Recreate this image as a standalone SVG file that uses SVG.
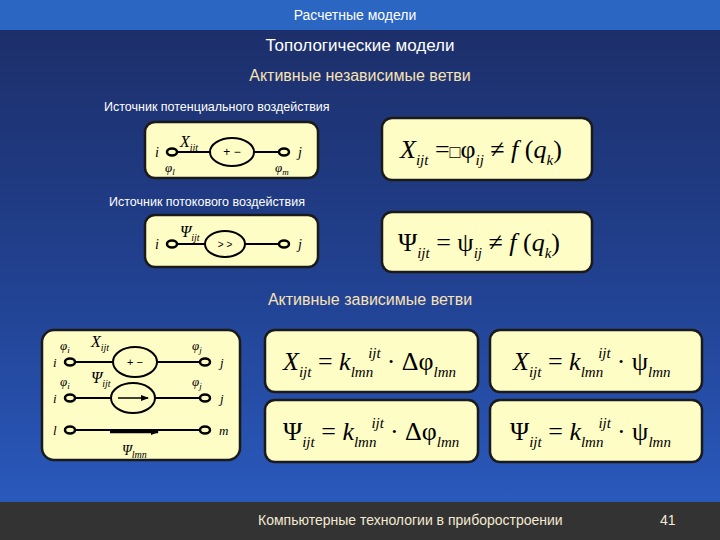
<svg xmlns="http://www.w3.org/2000/svg" width="720" height="540" viewBox="0 0 720 540">
<defs>
<linearGradient id="bg" x1="0" y1="0" x2="0" y2="1">
<stop offset="0" stop-color="#1c2d66"/><stop offset="0.5" stop-color="#21408e"/><stop offset="1" stop-color="#2b5dc4"/>
</linearGradient>
<marker id="ar" markerWidth="8" markerHeight="6" refX="7" refY="3" orient="auto" markerUnits="userSpaceOnUse"><path d="M0,0 L8,3 L0,6 z" fill="#000"/></marker>
</defs>
<style>
.box{fill:#fffdc6;stroke:#1a1a1a;stroke-width:2.5}
.w{stroke:#000;stroke-width:2;fill:none}
.t{fill:#fff;font-family:"Liberation Sans",Arial,sans-serif}
.p{fill:#f7e2b4;font-family:"Liberation Sans",Arial,sans-serif;font-size:16px;text-anchor:middle}
.c{font-family:"Liberation Serif","Times New Roman",serif;font-style:italic;fill:#000}
.f{font-family:"Liberation Serif","Times New Roman",serif;fill:#000;font-size:26px}
.s{font-size:15px;font-style:italic}
.term{fill:#fffdc6;stroke:#000;stroke-width:2.5}
.src{fill:#fffdc6;stroke:#000;stroke-width:2}
</style>
<rect width="720" height="540" fill="url(#bg)"/>
<rect width="720" height="30" fill="#2a66c2"/>
<rect y="502" width="720" height="38" fill="#333"/>
<text class="t" x="355" y="20" font-size="14" text-anchor="middle" fill="#e8eefc">Расчетные модели</text>
<text class="t" x="360" y="51" font-size="17" text-anchor="middle">Топологические модели</text>
<text class="p" x="360" y="81">Активные независимые ветви</text>
<text class="t" x="104" y="111" font-size="12.5">Источник потенциального воздействия</text>
<text class="t" x="109" y="206" font-size="12.5">Источник потокового воздействия</text>
<text class="p" x="370" y="305">Активные зависимые ветви</text>
<text x="258" y="525" font-size="14" font-family="Liberation Sans,Arial,sans-serif" fill="#f4ead2">Компьютерные технологии в приборостроении</text>
<text x="660" y="525" font-size="14" font-family="Liberation Sans,Arial,sans-serif" fill="#f4ead2">41</text>

<g id="n1">
<rect class="box" x="145" y="122" width="173" height="56" rx="10"/>
<path class="w" d="M176,152 H280"/>
<ellipse class="src" cx="232" cy="152" rx="22" ry="14"/>
<text x="232" y="156" font-size="12" text-anchor="middle" font-family="Liberation Sans,sans-serif">+ −</text>
<ellipse class="term" cx="172" cy="152" rx="5" ry="3.5"/>
<ellipse class="term" cx="284" cy="152" rx="5" ry="3.5"/>
<text class="c" x="155" y="157" font-size="14">i</text>
<text class="c" x="298" y="157" font-size="14">j</text>
<text class="c" x="180" y="147" font-size="16">X<tspan font-size="10" dy="4">ijt</tspan></text>
<text class="c" x="165" y="172" font-size="13">φ<tspan font-size="9" dy="3">l</tspan></text>
<text class="c" x="275" y="172" font-size="13">φ<tspan font-size="9" dy="3">m</tspan></text>
</g>
<g id="n2">
<rect class="box" x="145" y="215" width="173" height="52" rx="10"/>
<path class="w" d="M176,244 H280"/>
<ellipse class="src" cx="225" cy="244" rx="20" ry="13"/>
<text x="225" y="248" font-size="10" text-anchor="middle" font-family="Liberation Sans,sans-serif">&gt; &gt;</text>
<ellipse class="term" cx="172" cy="244" rx="5" ry="3.5"/>
<ellipse class="term" cx="284" cy="244" rx="5" ry="3.5"/>
<text class="c" x="155" y="249" font-size="14">i</text>
<text class="c" x="298" y="249" font-size="14">j</text>
<text class="c" x="180" y="237" font-size="16">Ψ<tspan font-size="10" dy="4">ijt</tspan></text>
</g>
<g id="f1">
<rect class="box" x="382" y="118" width="210" height="62" rx="10"/>
<text class="f" x="400" y="158"><tspan font-style="italic">X</tspan><tspan font-size="15" font-style="italic" dy="7">ijt</tspan><tspan dy="-7"> =</tspan><tspan font-family="Liberation Sans,sans-serif" font-size="18">□</tspan>φ<tspan font-size="15" font-style="italic" dy="7">ij</tspan><tspan dy="-7"> ≠ </tspan><tspan font-style="italic">f</tspan> (<tspan font-style="italic">q</tspan><tspan font-size="15" font-style="italic" dy="7">k</tspan><tspan dy="-7">)</tspan></text>
</g>
<g id="f2">
<rect class="box" x="382" y="212" width="210" height="60" rx="10"/>
<text class="f" x="398" y="251">Ψ<tspan font-size="15" font-style="italic" dy="7">ijt</tspan><tspan dy="-7"> = ψ</tspan><tspan font-size="15" font-style="italic" dy="7">ij</tspan><tspan dy="-7"> ≠ </tspan><tspan font-style="italic">f</tspan> (<tspan font-style="italic">q</tspan><tspan font-size="15" font-style="italic" dy="7">k</tspan><tspan dy="-7">)</tspan></text>
</g>
<g id="n3">
<rect class="box" x="42" y="330" width="198" height="130" rx="12"/>
<path class="w" d="M75,362 H200"/>
<ellipse class="src" cx="135" cy="362" rx="22" ry="15"/>
<text x="135" y="366" font-size="11" text-anchor="middle" font-family="Liberation Sans,sans-serif">+ −</text>
<ellipse class="term" cx="70" cy="362" rx="5" ry="3.5"/>
<ellipse class="term" cx="205" cy="362" rx="5" ry="3.5"/>
<path class="w" d="M75,398 H200"/>
<ellipse class="src" cx="133" cy="398" rx="22" ry="15"/>
<path d="M118,398 H148" stroke="#000" stroke-width="1.5" marker-end="url(#ar)"/>
<ellipse class="term" cx="70" cy="398" rx="5" ry="3.5"/>
<ellipse class="term" cx="205" cy="398" rx="5" ry="3.5"/>
<path class="w" d="M75,430 H200"/>
<path d="M110,432 H158" stroke="#000" stroke-width="2.5" marker-end="url(#ar)"/>
<ellipse class="term" cx="70" cy="430" rx="5" ry="3.5"/>
<ellipse class="term" cx="205" cy="430" rx="5" ry="3.5"/>
<text class="c" x="53" y="367" font-size="13">i</text>
<text class="c" x="53" y="403" font-size="13">i</text>
<text class="c" x="53" y="435" font-size="13">l</text>
<text class="c" x="220" y="367" font-size="13">j</text>
<text class="c" x="220" y="403" font-size="13">j</text>
<text class="c" x="219" y="435" font-size="13">m</text>
<text class="c" x="60" y="350" font-size="13">φ<tspan font-size="9" dy="3">i</tspan></text>
<text class="c" x="60" y="386" font-size="13">φ<tspan font-size="9" dy="3">i</tspan></text>
<text class="c" x="192" y="350" font-size="13">φ<tspan font-size="9" dy="3">j</tspan></text>
<text class="c" x="192" y="386" font-size="13">φ<tspan font-size="9" dy="3">j</tspan></text>
<text class="c" x="91" y="347" font-size="16">X<tspan font-size="10" dy="4">ijt</tspan></text>
<text class="c" x="91" y="383" font-size="16">Ψ<tspan font-size="10" dy="4">ijt</tspan></text>
<text class="c" x="122" y="455" font-size="14">Ψ<tspan font-size="10" dy="3">lmn</tspan></text>
</g>
<g id="f3">
<rect class="box" x="265" y="330" width="213" height="62" rx="10"/>
<text class="f" x="283" y="370"><tspan font-style="italic">X</tspan><tspan class="s" dy="7">ijt</tspan><tspan dy="-7"> = </tspan><tspan font-style="italic">k</tspan><tspan class="s" dy="7">lmn</tspan><tspan class="s" dy="-19" dx="-5">ijt</tspan><tspan dy="12" dx="6">· Δφ</tspan><tspan class="s" dy="7">lmn</tspan></text>
</g>
<g id="f4">
<rect class="box" x="490" y="330" width="212" height="62" rx="10"/>
<text class="f" x="513" y="370"><tspan font-style="italic">X</tspan><tspan class="s" dy="7">ijt</tspan><tspan dy="-7"> = </tspan><tspan font-style="italic">k</tspan><tspan class="s" dy="7">lmn</tspan><tspan class="s" dy="-19" dx="-5">ijt</tspan><tspan dy="12" dx="6">· ψ</tspan><tspan class="s" dy="7">lmn</tspan></text>
</g>
<g id="f5">
<rect class="box" x="265" y="400" width="213" height="62" rx="10"/>
<text class="f" x="283" y="440">Ψ<tspan class="s" dy="7">ijt</tspan><tspan dy="-7"> = </tspan><tspan font-style="italic">k</tspan><tspan class="s" dy="7">lmn</tspan><tspan class="s" dy="-19" dx="-5">ijt</tspan><tspan dy="12" dx="6">· Δφ</tspan><tspan class="s" dy="7">lmn</tspan></text>
</g>
<g id="f6">
<rect class="box" x="490" y="400" width="212" height="62" rx="10"/>
<text class="f" x="510" y="440">Ψ<tspan class="s" dy="7">ijt</tspan><tspan dy="-7"> = </tspan><tspan font-style="italic">k</tspan><tspan class="s" dy="7">lmn</tspan><tspan class="s" dy="-19" dx="-5">ijt</tspan><tspan dy="12" dx="6">· ψ</tspan><tspan class="s" dy="7">lmn</tspan></text>
</g>
<g id="connectors"/>
</svg>
